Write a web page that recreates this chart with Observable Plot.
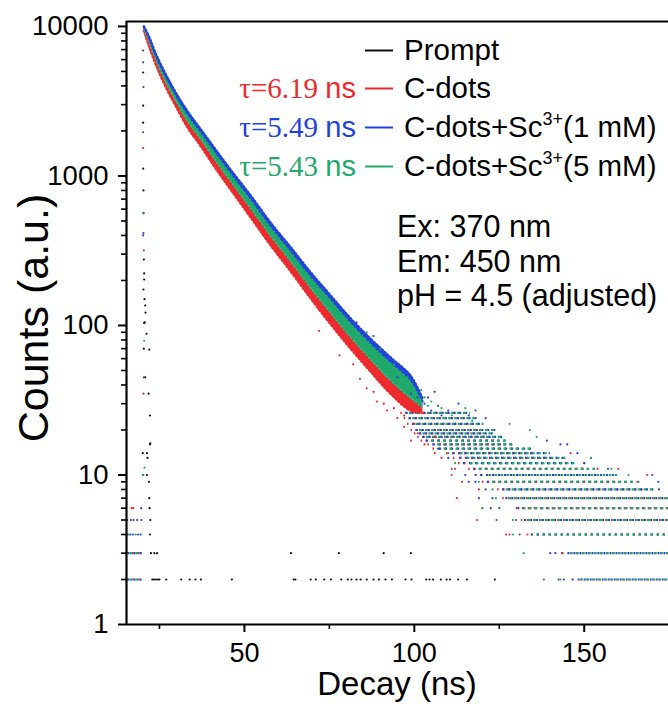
<!DOCTYPE html>
<html><head><meta charset="utf-8">
<script src="https://cdn.jsdelivr.net/npm/d3@7"></script>
<script src="https://cdn.jsdelivr.net/npm/@observablehq/plot@0.6"></script>
<style>
body{margin:0;background:#fff;}
#chart{width:668px;height:722px;}
</style></head><body><div id="chart"></div>
<script>
// ---------- scales / ticks ----------
const xDomain = [15.3, 174.8];
const yDomain = [1, 10790];
const xMajorTicks = [50, 100, 150];
const xMinorTicks = [25, 75, 125];
const yMajorTicks = [1, 10, 100, 1000, 10000];
const yMinorTicks = [2,3,4,5,6,7,8,9,20,30,40,50,60,70,80,90,200,300,400,500,600,700,800,900,2000,3000,4000,5000,6000,7000,8000,9000];

// ---------- series ----------
const seriesKeys = ["prompt", "red", "blue", "green"];
const seriesColors = {prompt: "#111111", red: "#ee2a2e", blue: "#2244dd", green: "#1faa6c"};
const legendLabels = [["Prompt"], ["C-dots"], ["C-dots+Sc", "3+", "(1 mM)"], ["C-dots+Sc", "3+", "(5 mM)"]];
const tauLabels = ["", "\u03C4=6.19", "\u03C4=5.49", "\u03C4=5.43"];
const noteLines = ["Ex: 370 nm", "Em: 450 nm", "pH = 4.5 (adjusted)"];

// decay band (ns, low / high counts)
const bandNs   = [20.4, 21.9, 23.9, 26.9, 29.8, 33.3, 37.2, 41.6, 46.6, 51.9, 57.7, 63.6, 69.5, 75.4, 81.3, 87.2, 93.0, 98.9, 102.5];
const greenLo  = [9450, 7700, 5850, 4120, 3110, 2260, 1710, 1225, 860, 592, 390, 264, 175, 119, 82, 58, 42, 32, 28];
const greenHi  = [10000, 8450, 6400, 4600, 3480, 2590, 1960, 1430, 1005, 700, 462, 316, 214, 150, 105, 76, 57, 43, 31];
const blueLo   = [9450, 7800, 5950, 4200, 3180, 2320, 1760, 1260, 880, 605, 398, 268, 178, 121, 83, 59, 43, 33, 28];
const blueHi   = [10000, 8550, 6550, 4750, 3600, 2690, 2040, 1490, 1050, 735, 486, 333, 226, 158, 111, 81, 61, 46, 32];
const redLo    = [9400, 7450, 5600, 3920, 2940, 2110, 1580, 1120, 775, 527, 345, 231, 152, 102, 70, 49, 35, 27, 26];
const redHi    = [9900, 8000, 6050, 4300, 3240, 2360, 1770, 1270, 890, 608, 400, 270, 180, 123, 85, 60, 44, 34, 28];

// discrete-count rows of the tail (dense runs)
const rowLevel  = [2, 3, 4, 5, 6, 7, 8, 9, 10, 11, 12, 13, 14, 15, 16, 17, 18, 19, 20, 22, 24, 26];
const greenFrom = [148, 145, 135, 132.5, 131, 127, 126, 122, 121, 118, 115.5, 114.6, 112.6, 107.7, 105.8, 104, 102.5, 101.5, 100.5, 99.5, 98.5, 97.5];
const blueFrom  = [146, 143, 134, 132, 130, 126.5, 125.5, 121, 119, 117, 114, 113, 111, 107, 105, 103, 102, 101, 100, 99, 98, 97];
const redFrom   = [149, 146, 134.5, 131.5, 130, 126, 124.5, 120, 118, 116, 113, 111.5, 109.5, 105.5, 104, 102, 101, 100, 99, 98, 97, 96];
const rowTo     = [174.8, 174.8, 174.8, 174.8, 174.8, 174.8, 170.5, 164.5, 160, 154, 148, 145, 140, 134.5, 129.5, 127.5, 126.5, 123.5, 124, 120.5, 118.5, 116.5];
const redTo     = [174.8, 174.8, 174.8, 174.8, 174.8, 174.8, 168, 160, 155, 150, 144, 140, 136, 131, 127, 125, 123, 121, 120, 117, 115, 113];

// background rows before the excitation pulse
const preLevel = [2, 3];
const preFrom = [15.3, 15.3];
const preTo = [20.0, 20.0];

// individual scattered points [ns, counts]
const promptPts = [[20.2,4920],[20.2,2950],[20.2,2270],[20.2,1120],[20.3,800],[20.3,565],[20.4,276],[20.5,223],[20.5,203],[20.3,174],[20.6,150],[20.8,136],[20.9,122],[20.7,105],[20.5,104],[21.2,88],[20.4,70],[22.0,69],[20.8,45],[21.8,35],[22.2,25],[22.3,16.3],[20.1,14],[21.3,14],[21.5,13],[20.2,10],[21.3,10],[22.2,16],[21.9,9],[22.0,7],[22.1,6],[22.3,5],[22.2,4],
  [22.5,3],[23.5,3],[24.3,3],[63.7,3],[77.8,3],[91,3],[99,3],
  [22.9,2],[23.4,2],[24.0,2],[24.6,2],[25.0,2],[27.0,2],[31.4,2],[33.9,2],[35.6,2],[37.2,2],[46.3,2],[64.5,2],[65.0,2],[69.5,2],[71.0,2],[73.5,2],[75.5,2],[78.5,2],[80.4,2],[81.5,2],[83.0,2],[84.2,2],[86.0,2],[88.0,2],[89.6,2],[91.5,2],[93.4,2],[97.4,2],[99.2,2],[103.5,2],[104.5,2],[105.5,2],[107.8,2],[109.5,2],[110.5,2],[112.9,2],[115.5,2],[123.7,2]];
const redPts = [[20.2,1540],[20.4,318],[20.3,35],[16.8,6],[17.3,6],
  [138.1,2],[143.5,3],[127,4],[128,4],[133.3,4],[118.5,5],[120,6],[112.5,7],[119,8],[114,9],[111,10],[111,11],[112,11],[165.6,9],[168.5,10],[153.9,11],[160,11],[150,12],[106,14],[108,13],[146,14],[106,18],
  [95,24],[97,21],[92,27],[101,19],[89,31],[99,17],[103,16],[84,44],[78,63],[72,92],[86,38],[91,30],[94,28],[97,25],[88,36],[100,22],[82,55]];
const bluePts = [[20.2,6900],[20.2,5750],[20.3,3930],[20.2,1960],[20.3,415],[20.4,45],[20.2,400],[19.6,6],
  [15.5,4],[16.4,4],[17.2,4],[18.7,4],[19.5,4],[15.5,5],[16.6,5],[17.4,5],[18.4,5],[19.7,5],
  [142.5,2],[144,2],[140,3],[141.5,3],[131,4],[124.2,5],[130,5],[122.5,6],[125,6],[119,7],[123,7],[121,8],[116,9],[118,9],[115,10],[118,10],[172,8],[171.8,9],[170,10],[157,11],[150,12],[152,13],[143,16],[145,16],[148,14],[139,17],[110,13],[107,15],[116,25],[118,27],[121,24],[113,30],
  [104,33],[107,29],[110,27],[100,40],[96,52],[91,66],[112,22],[106,36],[88,85],[83,105],[103,30],[105,27],[108,25],[99,35],[101,33],[95,45]];
const greenPts = [[20.3,561],[20.5,79],[20.6,11.2],[20.2,10],[16.0,4],[18.0,4],
  [143,2],[132.2,3],[129,4],[129,5],[120,6],[124,7],[123,8],[119,9],[166,9],[163,10],[158,11],[152,13],[136,18],[134,20],[128,22],[112,12],[110,14],[117,23],[115,28],
  [105,31],[108,28],[102,37],[98,45],[111,25],[94,55],[90,70],[86,90],[104,29],[106,26],[109,24],[101,34],[103,33],[96,40]];

// ---------- tables ----------
function band(lo, hi) { return bandNs.map((t, i) => ({ns: t, lo: lo[i], hi: hi[i]})); }
function rows(from, to) { return rowLevel.map((l, i) => ({level: l, from: from[i], to: to[i]})); }
const preRows = preLevel.map((l, i) => ({level: l, from: preFrom[i], to: preTo[i]}));
const pts = a => a.map(([ns, c]) => ({ns, c}));

const dash = {
  red:   {strokeDasharray: "1.5,4.5", strokeDashoffset: 0},
  blue:  {strokeDasharray: "2,4", strokeDashoffset: 4.5},
  green: {strokeDasharray: "2.5,3.5", strokeDashoffset: 2.5}
};
const rowData = {red: rows(redFrom, redTo), blue: rows(blueFrom, rowTo), green: rows(greenFrom, rowTo)};
const bandData = {red: band(redLo, redHi), blue: band(blueLo, blueHi), green: band(greenLo, greenHi)};
const ptData = {prompt: pts(promptPts), red: pts(redPts), blue: pts(bluePts), green: pts(greenPts)};

const marks = [];
for (const s of ["red", "blue", "green"]) {
  marks.push(Plot.ruleY(rowData[s], {y: "level", x1: "from", x2: "to", stroke: seriesColors[s], strokeWidth: 2.2, ...dash[s]}));
  marks.push(Plot.ruleY(preRows, {y: "level", x1: "from", x2: "to", stroke: seriesColors[s], strokeWidth: 2.2, ...dash[s]}));
}
// dense scatter band: solid core plus dotted fringes along its edges
for (const s of ["red", "blue", "green"]) {
  marks.push(Plot.areaY(bandData[s], {x: "ns", y1: "lo", y2: "hi", fill: seriesColors[s], curve: "catmull-rom"}));
}
marks.push(
  Plot.line(bandData.red, {x: "ns", y: "lo", stroke: seriesColors.red, strokeWidth: 2.6, strokeDasharray: "1.3,2.6", curve: "catmull-rom"}),
  Plot.line(bandData.blue, {x: "ns", y: "hi", stroke: seriesColors.blue, strokeWidth: 2.6, strokeDasharray: "1.3,2.4", curve: "catmull-rom"}),
  Plot.line(bandData.green, {x: "ns", y: "hi", stroke: seriesColors.blue, strokeWidth: 1.8, strokeDasharray: "1,3.4", strokeDashoffset: 1, curve: "catmull-rom"}),
  Plot.line(bandData.green, {x: "ns", y: "lo", stroke: seriesColors.red, strokeWidth: 1.6, strokeDasharray: "1,3.8", curve: "catmull-rom"}),
  Plot.line(bandData.blue, {x: "ns", y: "lo", stroke: "#3fbf84", strokeWidth: 1.4, strokeDasharray: "1,2.8", curve: "catmull-rom"})
);
for (const s of seriesKeys) {
  marks.push(Plot.dot(ptData[s], {x: "ns", y: "c", r: 1.1, fill: seriesColors[s], stroke: null}));
}
// axes and frame
marks.push(
  Plot.axisY(yMajorTicks, {tickSize: 8, tickPadding: 10, fontSize: 27.5, tickFormat: d => String(d), label: null, strokeWidth: 2, color: "#000"}),
  Plot.axisY(yMinorTicks, {tickSize: 5, tickFormat: () => "", label: null, strokeWidth: 1.6, color: "#000"}),
  Plot.axisX(xMajorTicks, {tickSize: 8, tickPadding: 10, fontSize: 27, tickFormat: d => String(d), label: null, strokeWidth: 2, color: "#000"}),
  Plot.axisX(xMinorTicks, {tickSize: 5, tickFormat: () => "", label: null, strokeWidth: 1.6, color: "#000"}),
  Plot.ruleX([xDomain[0]], {stroke: "#000", strokeWidth: 2.2}),
  Plot.ruleY([yDomain[0]], {stroke: "#000", strokeWidth: 2.2}),
  Plot.ruleY([yDomain[1]], {stroke: "#000", strokeWidth: 2.2})
);

const chart = Plot.plot({
  width: 668, height: 722,
  marginLeft: 126, marginRight: 0, marginTop: 21, marginBottom: 98,
  style: {fontFamily: '"Liberation Sans", Arial, sans-serif', background: "#fff", color: "#000"},
  x: {domain: xDomain},
  y: {type: "log", domain: yDomain},
  marks
});
document.getElementById("chart").appendChild(chart);

// ---------- titles, legend, notes ----------
const svg = d3.select(chart);
const sans = '"Liberation Sans", Arial, sans-serif';
const serif = '"Liberation Serif", "Times New Roman", serif';

svg.append("text").attr("x", 397).attr("y", 695).attr("text-anchor", "middle")
  .attr("font-family", sans).attr("font-size", 33).attr("fill", "#000").text("Decay (ns)");
svg.append("text").attr("transform", "translate(48,318) rotate(-90)").attr("text-anchor", "middle")
  .attr("font-family", sans).attr("font-size", 43).attr("fill", "#000").text("Counts (a.u.)");

const legendBase = [60, 98, 137, 176];
const lg = svg.append("g").attr("text-anchor", "start");
legendLabels.forEach((parts, i) => {
  const key = seriesKeys[i];
  const yb = legendBase[i];
  lg.append("line").attr("x1", 365).attr("x2", 393).attr("y1", yb - 9.5).attr("y2", yb - 9.5)
    .attr("stroke", seriesColors[key]).attr("stroke-width", 2);
  const t = lg.append("text").attr("x", 404).attr("y", yb).attr("text-anchor", "start")
    .attr("font-family", sans).attr("font-size", 29.5).attr("fill", "#000");
  t.append("tspan").text(parts[0]);
  if (parts.length > 1) {
    t.append("tspan").attr("font-size", 18).attr("dy", -12).text(parts[1]);
    t.append("tspan").attr("dy", 12).text(parts[2]);
  }
  if (tauLabels[i]) {
    const tt = lg.append("text").attr("x", 356).attr("y", yb).attr("text-anchor", "end").attr("fill", seriesColors[key]).attr("font-size", 29);
    tt.append("tspan").attr("font-family", serif).text(tauLabels[i] + " ");
    tt.append("tspan").attr("font-family", sans).text("ns");
  }
});
const noteBase = [237, 272, 306];
noteLines.forEach((s, i) => {
  svg.append("text").attr("x", 397).attr("y", noteBase[i]).attr("text-anchor", "start")
    .attr("font-family", sans).attr("font-size", 30.5).attr("fill", "#000").text(s);
});
</script></body></html>
